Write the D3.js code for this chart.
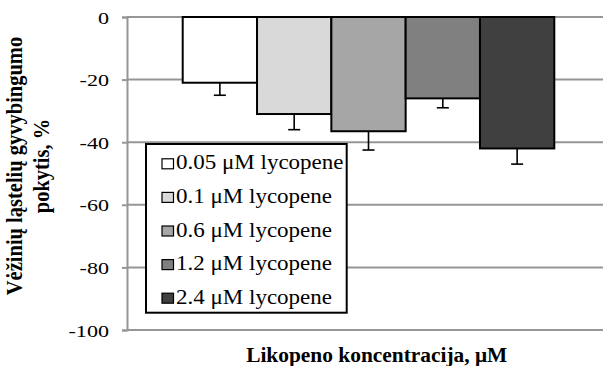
<!DOCTYPE html>
<html>
<head>
<meta charset="utf-8">
<script src="https://cdn.jsdelivr.net/npm/d3@7"></script>
<style>
  html, body { margin: 0; padding: 0; background: #fff; }
  svg { display: block; font-family: "Liberation Serif", "Times New Roman", serif; }
</style>
</head>
<body>
<svg id="chart" width="603" height="366"></svg>
<script>
// Lycopene concentrations (one bar each)
const series = ["0.05 μM lycopene", "0.1 μM lycopene", "0.6 μM lycopene", "1.2 μM lycopene", "2.4 μM lycopene"];
// Change in cancer cell viability, %
const values = [-21, -31, -36.5, -26, -42];
// Error (downward whisker length)
const errors = [4, 5, 6, 3, 5];
const colors = ["#ffffff", "#d9d9d9", "#a6a6a6", "#808080", "#404040"];
const yTicks = [0, -20, -40, -60, -80, -100];

const svg = d3.select("#chart");
const plot = { left: 127, right: 603, top: 17, bottom: 330 };
const gridColor = "#969696";

const y = d3.scaleLinear().domain([-100, 0]).range([plot.bottom, plot.top]);
const x = d3.scaleBand().domain(series).range([182.7, 554.3]).padding(0);

// gridlines
svg.append("g")
  .selectAll("line")
  .data(yTicks)
  .join("line")
  .attr("x1", plot.left).attr("x2", plot.right)
  .attr("y1", d => y(d)).attr("y2", d => y(d))
  .attr("stroke", gridColor).attr("stroke-width", 2);

// y axis
const yAxis = d3.axisLeft(y).tickValues(yTicks).tickSize(5).tickPadding(0).tickFormat(d3.format("d"));
const gy = svg.append("g").attr("transform", `translate(${plot.left},0)`).call(yAxis);
gy.select(".domain").attr("stroke", gridColor).attr("stroke-width", 2);
gy.selectAll(".tick line").attr("stroke", gridColor).attr("stroke-width", 2);
gy.selectAll(".tick text")
  .attr("font-family", "'Liberation Serif', 'Times New Roman', serif")
  .attr("font-size", 17).attr("fill", "#000")
  .attr("x", 0).attr("dy", null).attr("y", 6)
  .attr("transform", "translate(-18,0) scale(1.3,1)")
  .text(d => d === 0 ? "0" : "-" + Math.abs(d));

// bars
svg.append("g")
  .selectAll("rect")
  .data(series)
  .join("rect")
  .attr("x", d => x(d))
  .attr("width", x.bandwidth())
  .attr("y", (d, i) => y(0))
  .attr("height", (d, i) => y(values[i]) - y(0))
  .attr("fill", (d, i) => colors[i])
  .attr("stroke", "#000").attr("stroke-width", 2);

// error bars
const eb = svg.append("g").attr("stroke", "#000").attr("stroke-width", 1.6);
series.forEach((s, i) => {
  const cx = x(s) + x.bandwidth() / 2;
  eb.append("line").attr("x1", cx).attr("x2", cx)
    .attr("y1", y(values[i])).attr("y2", y(values[i] - errors[i]));
  eb.append("line").attr("x1", cx - 6).attr("x2", cx + 6)
    .attr("y1", y(values[i] - errors[i])).attr("y2", y(values[i] - errors[i]));
});

// legend
const lg = svg.append("g");
lg.append("rect").attr("x", 146).attr("y", 144).attr("width", 200.7).attr("height", 168.7)
  .attr("fill", "#fff").attr("stroke", "#000").attr("stroke-width", 2);
const items = lg.selectAll("g.item").data(series).join("g")
  .attr("class", "item")
  .attr("transform", (d, i) => `translate(0,${169.3 + i * 33.6})`);
items.append("rect").attr("x", 162).attr("y", -10.5).attr("width", 11.5).attr("height", 10)
  .attr("fill", (d, i) => colors[i]).attr("stroke", "#000").attr("stroke-width", 1.2);
items.append("text")
  .attr("transform", "translate(176,0) scale(1.15,1)")
  .attr("font-size", 20).attr("fill", "#000").text(d => d);

// axis titles
svg.append("text")
  .attr("transform", "translate(376.7,361.5) scale(1.07,1)")
  .attr("text-anchor", "middle").attr("font-weight", "bold").attr("font-size", 20)
  .text("Likopeno koncentracija, μM");

const yt = svg.append("text")
  .attr("transform", "translate(0,166) scale(1.1,1) rotate(-90)")
  .attr("text-anchor", "middle").attr("font-weight", "bold").attr("font-size", 20.5);
yt.append("tspan").attr("x", 0).attr("y", 19.8).text("Vėžinių ląstelių gyvybingumo");
yt.append("tspan").attr("x", 0).attr("y", 44.5).text("pokytis, %");
</script>
</body>
</html>
